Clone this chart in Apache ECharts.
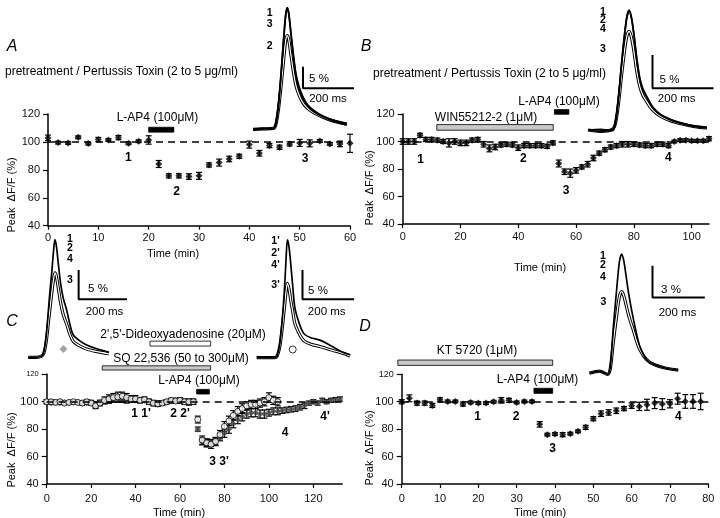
<!DOCTYPE html>
<html><head><meta charset="utf-8">
<script src="https://cdn.jsdelivr.net/npm/echarts@6/dist/echarts.min.js"></script>
<style>html,body{margin:0;padding:0;background:#fff}#c{width:720px;height:518px}</style>
</head><body><div id="c"></div>
<script>
// ---------------- DATA ----------------
// Panel A
const timeA = [0,2,4,6,8,10,12,14,16,18,20,22,24,26,28,30,32,34,36,38,40,42,44,46,48,50,52,54,56,58,60];
const valA  = [102.9,99.5,99.3,103.3,98.8,101.7,101.4,103.1,99,100.5,101.4,84.2,75.7,75.7,75.2,75.7,83.5,85.2,87.8,89.7,98.1,91.9,97.4,96.2,98.6,99.3,99,100.7,98.6,98.6,99];
const errA  = [2,1,1,1,1,1.5,1,1.5,1,1,3,2.5,1.5,1.5,2,2.5,1.5,2.5,2,1.5,2.5,2,1.5,1.5,1.5,2.5,2.5,1,1,2,6.5];
// Panel B
const timeB = [0,2,4,6,8,10,12,14,16,18,20,22,24,26,28,30,32,34,36,38,40,42,44,46,48,50,52,54,56,58,60,62,64,66,68,70,72,74,76,78,80,82,84,86,88,90,92,94,96,98,100,102,104,106];
const valB  = [100,100,100,104.5,101.5,101.5,101,100,99,100,99,99,101,101.5,98,95,96,97.5,98,97.5,95.5,97,97,97,97,96.5,99,84,78,77,79,81.5,83.5,88,91.5,94,96,97,98,98,98,97.5,97,97,98,98,97,100,101,101,100.5,100.5,100.5,102];
const errB  = [2,2,2,1.5,1.5,1.5,1.5,1.5,3,2,2,2,1.5,1.5,2,2.5,2,1.5,1.5,1.5,2,1.5,1.5,1.5,1.5,1.5,1.5,2.5,2,3,2,1.5,2,2,1.5,1.5,1.5,1.5,2,2,1.5,1.5,1.5,1.5,1.5,1.5,1.5,1,1,1,1,1,1,1.5];
// Panel C (closed = diamonds, open = circles)
const timeC1 = [0,2,4,6,8,10,12,14,16,18,20,22,24,26,28,30,32,34,36,38,40,42,44,46,48,50,52,54,56,58,60,62,64,66,68,70,72,74,76,78,80,82,84,86,88,90,92,94,96,98,100,102,104,106,108,110,112,114,116,118,120,122,124,126,128,130,132];
const valC1  = [100,99,99.5,99,99.5,99,99.5,99.5,99,99,99.5,98,99.5,100,101,101.5,102,101.5,101,101,101,101.5,101,100,99,99,99,100,100.5,101,100.5,100,99.5,100,80,71,70,70,71,74,77,80,84,87,89,91,92,92,91,91,92,93,93,93.5,94,94.5,95,96,97,99,100,99,101,100,101,101.5,102];
const errC1  = [1.5,1,1,1,1,1,1,1,1,1,1.5,2,1.5,1.5,2,2,2.5,2,2,1.5,1.5,1.5,1.5,1.5,1.5,1.5,1.5,1.5,1.5,1.5,1.5,1.5,2,1.5,1.5,2.5,2.5,2.5,2.5,2.5,3,3,3,3,3,3,3,3,3,3,2.5,2.5,2.5,2,2,2,2,2,2,1.5,1.5,1.5,1.5,1.5,1.5,1.5,1.5];
const timeC2 = [0,2,4,6,8,10,12,14,16,18,20,22,24,26,28,30,32,34,36,38,40,42,44,46,48,50,52,54,56,58,60,62,64,66,68,70,72,74,76,78,80,82,84,86,88,90,92,94,96,98,100,102,104];
const valC2  = [100,100,99.5,100,99,99.5,100,99.5,99,100,99,97,99,101,102,103,103.5,104,103,102,102,101,101.5,100,99,98.5,99,100,101,100.5,101,100,100,100,87,72,70,69,71,76,82,86,90,93,95,97,98,98,99,100,103,101,100];
const errC2  = [1.5,1.5,1.5,1,1,1,1,1,1.5,1.5,1.5,2,2,2.5,3,3,3.5,3,3,2.5,2.5,2,2,2,2,2,1.5,1.5,1.5,1.5,2,2,2,2,2.5,3,3,3,3,3,3.5,3.5,3.5,3.5,3.5,3,3,3,3,3,3.5,3,3];
// Panel D
const timeD = [0,2,4,6,8,10,12,14,16,18,20,22,24,26,28,30,32,34,36,38,40,42,44,46,48,50,52,54,56,58,60,62,64,66,68,70,72,74,76,78];
const valD  = [100,102.5,99,99,97.3,101.4,100.2,100.2,98.3,99.5,99,99,100,101,101,99.5,100.2,100.2,83.5,76,76.4,76,76.7,78.4,81.3,87.6,91.3,92.2,93.4,95,97.1,96.6,97.8,99,98.3,98.5,102.2,100.2,100.2,100.2];
const errD  = [1.5,2.5,1.5,1.5,1.5,1.5,1,1,1.5,1,1,1,1,2,1.5,1,1,1,2,1,1,1.5,1,1,1.5,1.5,2,2,2,1.5,2,3,4,4,4,3,4,5,5,6];

// Drug applications: [start min, end min, low %, high %, fill (0 black,1 gray,2 white)]
const drugsA = [[20,25,107,110.5,0]];
const drugsB = [[11.8,52.1,108.2,112.3,1],[52.5,57.5,119.8,123.2,0]];
const drugsC = [[46.5,73.8,140.6,144.2,2],[25,73.8,123.1,126.2,1],[67.5,73.2,105.6,109,0]];
const drugsD = [[-1,39.4,126.5,130.4,1],[34.5,39.4,106.1,109.8,0]];

// Tick labels
const yTicks  = [40,60,80,100,120];
const xTicksA = [0,10,20,30,40,50,60];
const xTicksB = [0,20,40,60,80,100];
const xTicksC = [0,20,40,60,80,100,120];
const xTicksD = [0,10,20,30,40,50,60,70,80];

// Inset traces (time ms, ΔF/F %)
const traceTA = [0,40,80,90,100,110,120,128,134,140,148,158,168,180,195,215,240,270,310,368];
const traceA1 = [0,0.1,0.2,1.5,6,13,21,26.5,28.2,27,22.5,17,12.5,9.5,7.2,5.3,4,3,2,1];
const traceA3 = [0,0.2,0.1,1.3,5.5,12.5,20.5,26.2,28,26.8,22.8,17.5,13,10,7.6,5.6,4.3,3.2,2.2,1.3];
const traceA2 = [0,0.1,0.2,1.2,4.7,10,16,20.5,21.7,20.8,17.5,13.5,10.2,8,6.2,4.8,3.8,2.9,2,1.2];
const traceTB = [0,40,80,90,100,110,120,128,135,142,150,160,170,180,192,210,236,270,310,350,390];
const traceB1 = [0,-0.2,0.1,1.2,5,10,14.5,17.2,18,17,14.5,10.5,7.5,6,5,3.5,2.3,1.5,0.9,0.5,0.3];
const traceB2 = [0,0.1,-0.1,1.1,4.8,9.8,14.2,17,17.8,16.9,14.6,10.8,7.8,6.2,5.1,3.6,2.4,1.6,1,0.6,0.4];
const traceB3 = [0,-0.2,0.1,1,4,8.2,12,14.2,14.8,14,12,8.8,6.5,5.2,4.3,3.1,2.1,1.4,0.9,0.5,0.3];
const traceTCl = [0,30,55,65,75,83,90,97,104,110,116,124,134,145,159,172,186,210,241,280,333];
const traceCl1 = [0,0,0.2,1,4,8,11.5,14.5,18,20.1,19,16,12.5,10,8,5.6,3.8,2.9,2.1,1.5,0.9];
const traceCl3 = [0,0,0.2,0.8,3,6,8.5,11,13.2,14.4,13.8,11.8,9.2,7.2,5.6,3.9,2.7,2,1.4,1,0.6];
const traceTCr = [0,40,70,80,90,100,108,114,119,125,132,140,148,160,172,185,210,245,290,330,362];
const traceCr1 = [0,0,0,0.5,2.5,7,12,17,20.1,19,16,12,8.5,6.5,5,4,3.4,3,2,1,0.5];
const traceCr3 = [0,0,0,0.4,2,5.5,8.8,11.5,12.7,11.8,9.8,7.8,5.8,4.5,3.5,2.8,2.3,1.9,1.3,0.8,0.3];
const traceTD = [0,40,70,80,92,105,115,124,132,140,150,160,168,180,194,219,250,290,340];
const traceD1 = [0,0.2,-0.1,0.5,4.4,8,10.5,11.25,10.6,9.3,7.6,6.2,5.2,3.8,2.5,1.3,0.8,0.5,0.3];
const traceD3 = [0,0.2,-0.1,0.4,3,5.5,7.2,7.7,7.3,6.5,5.5,4.7,4.1,3.1,2.2,1.3,0.8,0.5,0.3];
// Scale bars (ms, %)
const scaleMs  = [200,200,200,200,200];
const scalePct = [5,5,5,5,3];

// ---------------- LAYOUT ----------------
const FONT = '"Liberation Sans", Arial, sans-serif';
const mainGrids = [
  {left:48, top:114, width:302, height:111.7},
  {left:402.7, top:114, width:306.3, height:110},
  {left:46.7, top:374.3, width:295.5, height:109.7},
  {left:401.7, top:374.3, width:306.6, height:109.7}
];
const xRanges = [[0,60],[0,106],[0,133],[0,80]];
const xTickSets = [xTicksA, xTicksB, xTicksC, xTicksD];
const insets = [
  {left:253,   base:129.3, pxMs:0.255,  pxPct:4.32, xMax:420, yMin:-2, yMax:29.5, bar:[196,9.5]},
  {left:588,   base:130,   pxMs:0.305,  pxPct:6.66, xMax:420, yMin:-2, yMax:19,   bar:[211.5,6.26]},
  {left:28.3,  base:357.3, pxMs:0.242,  pxPct:5.86, xMax:420, yMin:-2, yMax:21,   bar:[208,9.9]},
  {left:256.7, base:357.7, pxMs:0.258,  pxPct:5.86, xMax:400, yMin:-2, yMax:21,   bar:[177.5,9.97]},
  {left:589.3, base:373.3, pxMs:0.2615, pxPct:10.6, xMax:450, yMin:-1, yMax:12,   bar:[241.7,7.15]}
];

const grids = [], xAxes = [], yAxes = [];
mainGrids.forEach((g, i) => {
  grids.push(Object.assign({containLabel:false}, g));
  xAxes.push({type:'value', gridIndex:i, min:xRanges[i][0], max:xRanges[i][1],
    axisLine:{show:true, onZero:false, lineStyle:{color:'#000', width:1.5}},
    axisTick:{show:true, length:4, customValues:xTickSets[i], lineStyle:{color:'#000', width:1.2}},
    axisLabel:{customValues:xTickSets[i], fontSize:11, color:'#111', fontFamily:FONT, margin:(i<2?7:9)},
    splitLine:{show:false}});
  yAxes.push({type:'value', gridIndex:i, min:40, max:120,
    axisLine:{show:true, onZero:false, lineStyle:{color:'#000', width:1.5}},
    axisTick:{show:true, length:5, customValues:yTicks, lineStyle:{color:'#000', width:1.2}},
    axisLabel:{customValues:yTicks, fontSize:11, color:'#111', fontFamily:FONT, margin:8,
      formatter: v => (i>=2 && v===120) ? '{s|120}' : String(v),
      rich:{s:{fontSize:(i===2?7.5:9), fontFamily:FONT, color:'#111'}}},
    splitLine:{show:false}});
});
insets.forEach((c, k) => {
  const gi = 4 + k;
  grids.push({left:c.left, top:c.base - c.yMax*c.pxPct, width:c.xMax*c.pxMs, height:(c.yMax-c.yMin)*c.pxPct});
  xAxes.push({type:'value', gridIndex:gi, min:0, max:c.xMax, show:false});
  yAxes.push({type:'value', gridIndex:gi, min:c.yMin, max:c.yMax, show:false});
});

// ---------------- SERIES ----------------
const series = [];
function errRender(params, api) {
  const x = api.value(0), v = api.value(1), e = api.value(2);
  const a = api.coord([x, v + e]), b = api.coord([x, v - e]);
  const w = 3, st = {stroke:'#000', lineWidth:1.2};
  return {type:'group', children:[
    {type:'line', shape:{x1:a[0], y1:a[1], x2:b[0], y2:b[1]}, style:st},
    {type:'line', shape:{x1:a[0]-w, y1:a[1], x2:a[0]+w, y2:a[1]}, style:st},
    {type:'line', shape:{x1:b[0]-w, y1:b[1], x2:b[0]+w, y2:b[1]}, style:st}
  ]};
}
const fills = ['#000', '#c9c9c9', '#fff'];
function barRender(params, api) {
  const p1 = api.coord([api.value(0), api.value(3)]);
  const p2 = api.coord([api.value(1), api.value(2)]);
  return {type:'rect', shape:{x:p1[0], y:p1[1], width:p2[0]-p1[0], height:p2[1]-p1[1]},
    style:{fill:fills[api.value(4)], stroke:'#000', lineWidth:0.8}};
}
function addPanel(i, t, v, e, sym, withLine) {
  series.push({type:'custom', xAxisIndex:i, yAxisIndex:i, renderItem:errRender, clip:false,
    data:t.map((x,k)=>[x, v[k], e[k]]), encode:{x:0, y:1}, silent:true, animation:false, z:3});
  const s = {type:'scatter', xAxisIndex:i, yAxisIndex:i, data:t.map((x,k)=>[x, v[k]]),
    symbol:sym.symbol, symbolSize:sym.size, itemStyle:sym.style, silent:true, animation:false, z:4};
  if (withLine) {
    s.markLine = {silent:true, symbol:['none','none'], animation:false, label:{show:false},
      lineStyle:{type:[7,5], color:'#000', width:1.7}, data:[{yAxis:100}]};
  }
  series.push(s);
}
function addDrugs(i, d) {
  series.push({type:'custom', xAxisIndex:i, yAxisIndex:i, renderItem:barRender, clip:false,
    data:d, encode:{x:[0,1], y:[2,3]}, silent:true, animation:false, z:5});
}
const dia = {symbol:'diamond', size:7, style:{color:'#000'}};
addPanel(0, timeA, valA, errA, dia, true);
addPanel(1, timeB, valB, errB, dia, true);
addPanel(2, timeC1, valC1, errC1, {symbol:'diamond', size:6.5, style:{color:'#444'}}, true);
addPanel(2, timeC2, valC2, errC2, {symbol:'circle', size:6, style:{color:'#fff', borderColor:'#000', borderWidth:1}}, false);
addPanel(3, timeD, valD, errD, dia, true);
addDrugs(0, drugsA); addDrugs(1, drugsB); addDrugs(2, drugsC); addDrugs(3, drugsD);

function traceLine(k, t, v, kind) {
  const width = kind === 'outer' ? 3.2 : (kind === 'inner' ? 1.2 : 1.7);
  series.push({type:'line', xAxisIndex:4+k, yAxisIndex:4+k, data:t.map((x,j)=>[x, v[j]]),
    showSymbol:false, smooth:0.3, silent:true, animation:false, clip:false,
    lineStyle:{color: kind === 'inner' ? '#fff' : '#000', width}, z:(kind==='full'?8:(kind==='inner'?7:6))});
}
function hollow(k, t, v) { traceLine(k, t, v, 'outer'); traceLine(k, t, v, 'inner'); }
hollow(0, traceTA, traceA2); traceLine(0, traceTA, traceA1, 'full'); traceLine(0, traceTA, traceA3, 'full');
hollow(1, traceTB, traceB3); traceLine(1, traceTB, traceB1, 'full'); traceLine(1, traceTB, traceB2, 'full');
hollow(2, traceTCl, traceCl3); traceLine(2, traceTCl, traceCl1, 'full');
hollow(3, traceTCr, traceCr3); traceLine(3, traceTCr, traceCr1, 'full');
hollow(4, traceTD, traceD3); traceLine(4, traceTD, traceD1, 'full');
// scale bars
insets.forEach((c, k) => {
  const t0 = c.bar[0], v0 = c.bar[1];
  series.push({type:'line', xAxisIndex:4+k, yAxisIndex:4+k, showSymbol:false, silent:true, animation:false, clip:false,
    data:[[t0, v0 + scalePct[k]], [t0, v0], [t0 + scaleMs[k], v0]],
    lineStyle:{color:'#000', width:2}, z:9});
});
// inset symbol keys for panel C
series.push({type:'scatter', xAxisIndex:6, yAxisIndex:6, data:[[145,1.4]], symbol:'diamond', symbolSize:8,
  itemStyle:{color:'#8c8c8c'}, silent:true, animation:false});
series.push({type:'scatter', xAxisIndex:7, yAxisIndex:7, data:[[139.5,1.4]], symbol:'circle', symbolSize:7,
  itemStyle:{color:'#fff', borderColor:'#000', borderWidth:1}, silent:true, animation:false});

// ---------------- TEXT ----------------
const texts = [];
function txt(s, x, y, size, opt) {
  opt = opt || {};
  texts.push({type:'text', x, y, rotation:opt.rot || 0, z:20, silent:true,
    style:{text:s, fontSize:size, fontFamily:FONT, fontWeight:opt.bold?'bold':'normal',
      fontStyle:opt.italic?'italic':'normal', fill:'#000',
      textAlign:opt.align || 'center', textVerticalAlign:'middle'}});
}
txt('A', 12, 47, 16, {italic:true}); txt('B', 366, 47, 16, {italic:true});
txt('C', 12, 322, 16, {italic:true}); txt('D', 365, 327, 16, {italic:true});
txt('pretreatment / Pertussis Toxin (2 to 5 μg/ml)', 5, 72, 12, {align:'left'});
txt('pretreatment / Pertussis Toxin (2 to 5 μg/ml)', 373, 73.5, 12, {align:'left'});
[['L-AP4 (100μM)',157.5,118],['WIN55212-2 (1μM)',486,118],['L-AP4 (100μM)',559,102],
 ["2',5'-Dideoxyadenosine (20μM)",183,335],['SQ 22,536 (50 to 300μM)',181,359],['L-AP4 (100μM)',199,381],
 ['KT 5720 (1μM)',477,351],['L-AP4 (100μM)',537.5,380]].forEach(a => txt(a[0], a[1], a[2], 12));
[['1',128.3,157.5],['2',176.7,191.7],['3',305,158.3],
 ['1',420.7,159.3],['2',523.3,158.3],['3',566,190.7],['4',668.3,157.3],
 ["1 1'",141,414],["2 2'",180,414],["3 3'",219,461.7],['4',285,432.7],["4'",325,416.7],
 ['1',477.7,416.7],['2',516,416.7],['3',552.7,448.3],['4',678.3,416.7]].forEach(a => txt(a[0], a[1], a[2], 12, {bold:true}));
[['1',269.7,13],['3',269.7,24],['2',269.7,46.5],
 ['1',603,12.5],['2',603,20.5],['4',603,29.5],['3',603,49.5],
 ['1',70,239],['2',70,248.5],['4',70,259],['3',70,280],
 ["1'",275.5,241],["2'",275.5,253],["4'",275.5,265],["3'",275.5,285],
 ['1',603,256],['2',603,265.5],['4',603,277],['3',603.5,302]].forEach(a => txt(a[0], a[1], a[2], 10.5, {bold:true}));
[['5 %',319,79],['200 ms',328,99],['5 %',669.5,80],['200 ms',676.7,99],
 ['5 %',98,289],['200 ms',104.5,311.7],['5 %',318,290.7],['200 ms',326.7,311.7],
 ['3 %',671,290],['200 ms',677.5,313]].forEach(a => txt(a[0], a[1], a[2], 11.5));
[[173,254],[540,267.5],[179,512.5],[540,512.5]].forEach(p => txt('Time (min)', p[0], p[1], 11));
[[12,195],[370,188],[12,450],[370,448]].forEach(p => txt('Peak  ΔF/F (%)', p[0], p[1], 11, {rot:Math.PI/2}));

const chart = echarts.init(document.getElementById('c'), null, {renderer:'canvas'});
chart.setOption({animation:false, backgroundColor:'#fff', grid:grids, xAxis:xAxes, yAxis:yAxes, series, graphic:texts});
</script>
</body></html>
